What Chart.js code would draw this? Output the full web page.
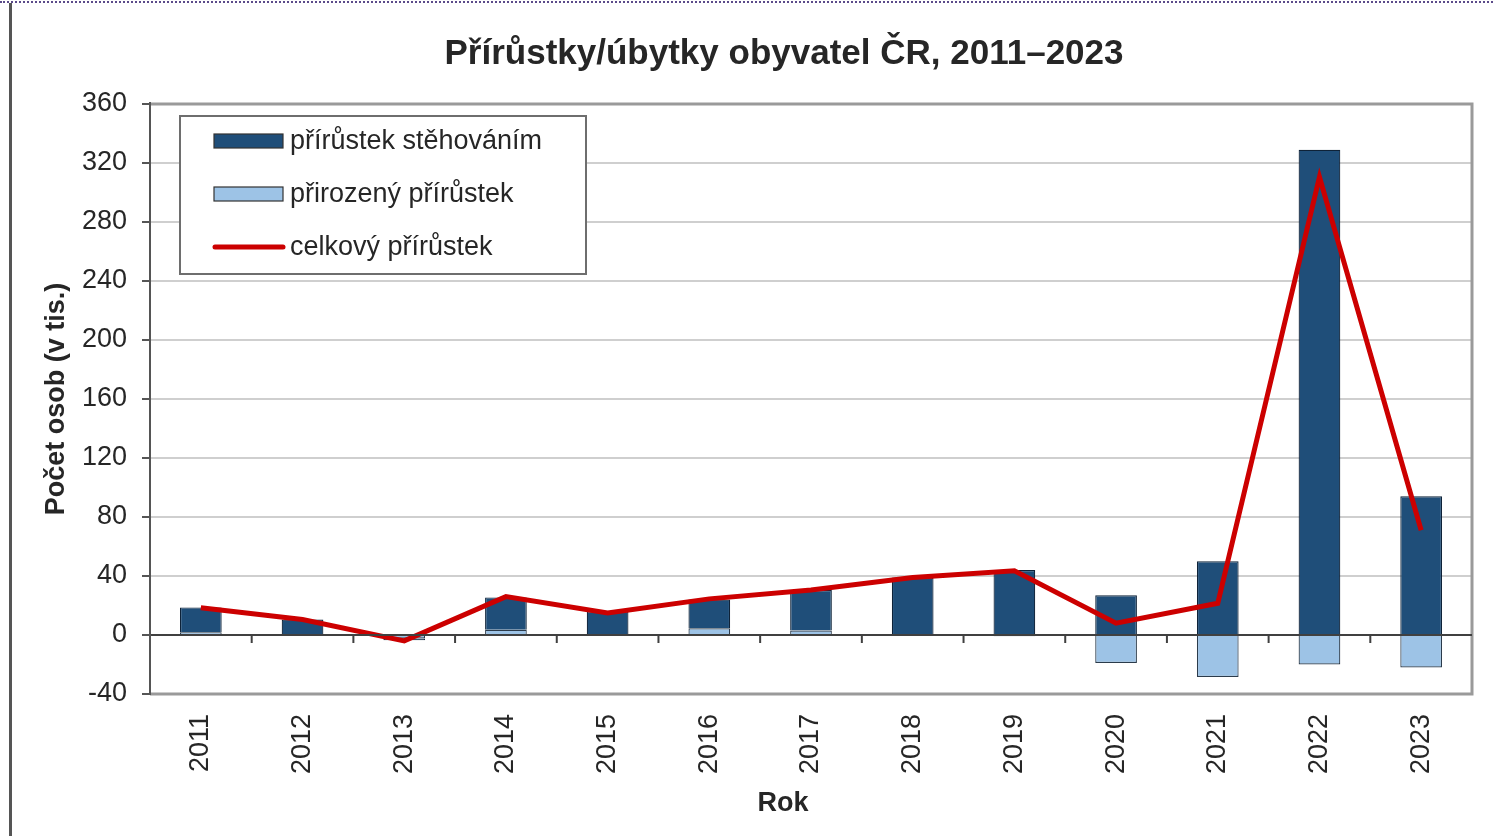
<!DOCTYPE html>
<html>
<head>
<meta charset="utf-8">
<script src="https://cdn.jsdelivr.net/npm/chart.js@4.4.1/dist/chart.umd.min.js"></script>
<style>
  html, body { margin: 0; padding: 0; background: #fff; }
  #wrap { position: relative; width: 1493px; height: 836px; overflow: hidden; }
  #frameTop { position: absolute; left: 0; top: 1px; width: 1493px; border-top: 2px dotted #5b4b8a; }
  #frameLeft { position: absolute; left: 9px; top: 3px; height: 833px; border-left: 3px solid #555; }
  canvas { position: absolute; left: 0; top: 0; }
</style>
</head>
<body>
<div id="wrap">
  <canvas id="c" width="1493" height="836"></canvas>
  <div id="frameTop"></div>
  <div id="frameLeft"></div>
</div>
<script>
// ---- data (tis. osob) ----
const years = ['2011','2012','2013','2014','2015','2016','2017','2018','2019','2020','2021','2022','2023'];
const migrace  = [16.9, 10.3, -1.3, 22.0, 16.0, 19.5, 27.5, 38.6, 44.0, 27.0, 50.0, 329.0, 94.0];
const prirozeny = [1.8, 0.2, -2.3, 3.5, -0.4, 4.5, 3.0, 0.4, -0.8, -19.0, -28.5, -20.0, -22.0];
const celkem   = [18.5, 10.5, -4.0, 26.0, 15.0, 24.5, 30.5, 39.0, 43.5, 8.0, 21.5, 310.5, 71.0];
const yTicks = [-40, 0, 40, 80, 120, 160, 200, 240, 280, 320, 360];
const chartTitle = 'Přírůstky/úbytky obyvatel ČR, 2011–2023';
const xTitle = 'Rok';

const FONT = '"Liberation Sans", Arial, sans-serif';
const TXT = '#262626';

// title, plot frame, x tick marks on the zero line and legend box
const decor = {
  id: 'decor',
  beforeDatasetsDraw(chart) {
    const { ctx, chartArea: a } = chart;
    ctx.save();
    ctx.strokeStyle = '#9a9a9a';
    ctx.lineWidth = 3;
    ctx.beginPath();
    ctx.moveTo(a.left, a.top); ctx.lineTo(a.right, a.top); ctx.lineTo(a.right, a.bottom); ctx.lineTo(a.left, a.bottom);
    ctx.stroke();
    ctx.restore();
  },
  afterDatasetsDraw(chart) {
    const { ctx, chartArea: a, scales: { x, y } } = chart;
    ctx.save();
    // titles
    ctx.fillStyle = TXT;
    ctx.textAlign = 'center';
    ctx.textBaseline = 'middle';
    ctx.font = 'bold 35px ' + FONT;
    ctx.fillText(chartTitle, 784, 54);
    ctx.font = 'bold 27px ' + FONT;
    ctx.fillText(xTitle, 783, 804);
    ctx.textAlign = 'left';

    // zero line
    const y0 = y.getPixelForValue(0);
    ctx.strokeStyle = '#404040';
    ctx.lineWidth = 2;
    ctx.beginPath();
    ctx.moveTo(a.left, y0); ctx.lineTo(a.right, y0);
    for (let i = 1; i < years.length; i++) {
      const xb = x.getPixelForValue(i - 0.5);
      ctx.moveTo(xb, y0); ctx.lineTo(xb, y0 + 8);
    }
    ctx.stroke();
    // left axis line
    ctx.strokeStyle = '#555';
    ctx.lineWidth = 2;
    ctx.beginPath();
    ctx.moveTo(a.left, a.top - 2); ctx.lineTo(a.left, a.bottom + 1);
    ctx.stroke();

    // legend
    const lx = a.left + 30, ly = a.top + 12, lw = 406, lh = 158;
    ctx.fillStyle = '#fff';
    ctx.fillRect(lx, ly, lw, lh);
    ctx.strokeStyle = '#6e6e6e';
    ctx.lineWidth = 2;
    ctx.strokeRect(lx, ly, lw, lh);
    const items = [chart.data.datasets[1], chart.data.datasets[0], chart.data.datasets[2]];
    ctx.font = '27px ' + FONT;
    ctx.textBaseline = 'middle';
    items.forEach((ds, i) => {
      const cy = ly + 25 + i * 53;
      if (ds.type === 'line') {
        ctx.strokeStyle = ds.borderColor;
        ctx.lineWidth = 5;
        ctx.lineCap = 'round';
        ctx.beginPath();
        ctx.moveTo(lx + 35, cy); ctx.lineTo(lx + 103, cy);
        ctx.stroke();
      } else {
        ctx.fillStyle = ds.backgroundColor;
        ctx.fillRect(lx + 34, cy - 7, 69, 14);
        ctx.strokeStyle = '#333';
        ctx.lineWidth = 1.2;
        ctx.strokeRect(lx + 34, cy - 7, 69, 14);
      }
      ctx.fillStyle = TXT;
      ctx.fillText(ds.label, lx + 110, cy + 1);
    });
    ctx.restore();
  }
};

new Chart(document.getElementById('c'), {
  type: 'bar',
  data: {
    labels: years,
    datasets: [
      { label: 'přirozený přírůstek', data: prirozeny, backgroundColor: '#9dc3e6', borderColor: '#2b3b4b', borderWidth: 1.2, stack: 's', order: 2 },
      { label: 'přírůstek stěhováním', data: migrace, backgroundColor: '#1f4e79', borderColor: '#0e2238', borderWidth: 1.2, stack: 's', order: 2 },
      { type: 'line', label: 'celkový přírůstek', data: celkem, borderColor: '#cc0000', borderWidth: 5, pointRadius: 0, tension: 0, fill: false, order: 1 }
    ]
  },
  options: {
    responsive: false, animation: false,
    layout: { padding: { left: 36, right: 21, top: 104, bottom: 0 } },
    datasets: { bar: { barPercentage: 0.41, categoryPercentage: 1 } },
    plugins: {
      legend: { display: false },
      tooltip: { enabled: false },
      title: { display: false }
    },
    scales: {
      x: {
        stacked: true,
        grid: { display: false },
        border: { display: false },
        ticks: { color: TXT, font: { family: FONT, size: 27 }, minRotation: 90, maxRotation: 90, padding: 12 },
        afterFit: s => { s.height = 142; }
      },
      y: {
        stacked: true,
        min: -40, max: 360,
        afterBuildTicks: s => { s.ticks = yTicks.map(v => ({ value: v })); },
        grid: { color: c => c.tick && c.tick.value === 0 ? '#404040' : '#cfcfcf', lineWidth: 2, tickLength: 8, tickColor: '#555' },
        border: { display: false },
        ticks: { color: TXT, font: { family: FONT, size: 27 }, padding: 15 },
        title: { display: true, text: 'Počet osob (v tis.)', color: TXT, font: { family: FONT, size: 27, weight: 'bold' }, padding: { bottom: 5 } },
        afterFit: s => { s.width = 114; }
      }
    }
  },
  plugins: [decor]
});
</script>
</body>
</html>
